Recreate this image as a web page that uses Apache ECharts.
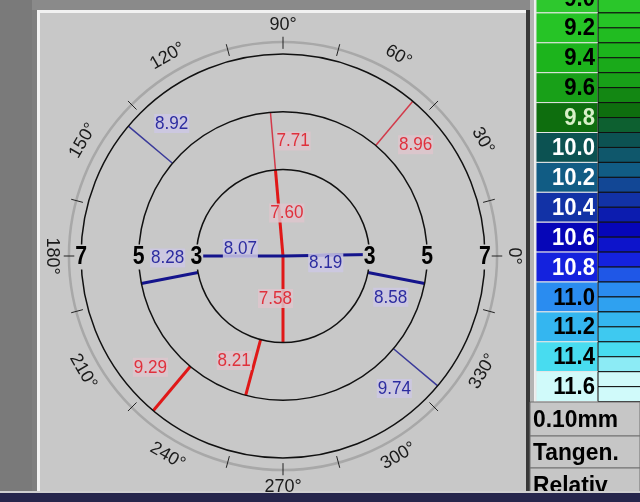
<!DOCTYPE html>
<html>
<head>
<meta charset="utf-8">
<script src="https://cdn.jsdelivr.net/npm/echarts@6/dist/echarts.min.js"></script>
<style>
html, body { margin: 0; padding: 0; background: #7f7f7f; }
#main { width: 640px; height: 502px; }
</style>
</head>
<body>
<div id="main"></div>
<script>
var ringRadii = [3, 5, 7];
var degreeLabels = [0, 30, 60, 90, 120, 150, 180, 210, 240, 270, 300, 330];
var degreeTicks = [0, 15, 45, 75, 90, 105, 135, 165, 180, 195, 225, 255, 270, 285, 315, 345];

// steep meridian (red): angle in degrees, zone from/to in mm, radius value
var steepAngles = [95, 270, 95, 255, 50, 230];
var steepFrom = [0, 0, 3, 3, 5, 5];
var steepTo = [3, 3, 5, 5, 7, 7];
var steepValues = [7.60, 7.58, 7.71, 8.21, 8.96, 9.29];

// flat meridian (blue)
var flatAngles = [180, 1, 191, 349, 140, 320];
var flatFrom = [0, 0, 3, 3, 5, 5];
var flatTo = [3, 3, 5, 5, 7, 7];
var flatValues = [8.07, 8.19, 8.28, 8.58, 8.92, 9.74];

// colour scale
var scaleValues = [9.0, 9.2, 9.4, 9.6, 9.8, 10.0, 10.2, 10.4, 10.6, 10.8, 11.0, 11.2, 11.4, 11.6];
var scaleNotes = ['0.10mm', 'Tangen.', 'Relativ'];

// styles
var steepWidths = [3, 3, 1.5, 3, 1.5, 3];
var flatWidths = [3, 3, 3, 3, 1.5, 1.5];
var scaleColors = ['#2ec82e', '#26c426', '#1cb41c', '#18a018', '#0e6e0e', '#0c5252', '#115c84', '#1232a6',
    '#0606b8', '#1422de', '#2a8cf0', '#34b6f0', '#48dcf0', '#d0fafa'];
var scaleTextColors = ['#000', '#000', '#000', '#000', '#d8f0c8', '#fff', '#fff', '#fff',
    '#fff', '#fff', '#000', '#000', '#000', '#000'];

var myChart = echarts.init(document.getElementById('main'));

var zip = function (angles, from, to, vals) {
    return vals.map(function (v, i) {
        return [(from[i] + to[i]) / 2, angles[i], from[i], to[i], v];
    });
};

var meridian = function (thick, thin, textColor, bg, widths) {
    return function (params, api) {
        var a = api.value(1), r0 = api.value(2), r1 = api.value(3), v = api.value(4);
        var p0 = api.coord([r0, a]);
        var p1 = api.coord([r1, a]);
        var pl = api.coord([(r0 + r1) / 2, (a + 350) % 360]);
        var w = widths[params.dataIndex];
        return {
            type: 'group',
            children: [{
                type: 'line',
                shape: { x1: p0[0], y1: p0[1], x2: p1[0], y2: p1[1] },
                style: { stroke: w > 2 ? thick : thin, lineWidth: w }
            }, {
                type: 'text',
                x: pl[0], y: pl[1], scaleX: 0.9, z2: 10,
                style: {
                    text: v.toFixed(2), fill: textColor,
                    font: '19px "Liberation Sans"',
                    align: 'center', verticalAlign: 'middle',
                    backgroundColor: bg, padding: [0, 1]
                }
            }]
        };
    };
};

// side panel + colour scale
var mix = function (c1, c2) {
    var a = echarts.color.parse(c1), b = echarts.color.parse(c2);
    return 'rgb(' + Math.round((a[0] + b[0]) / 2) + ',' + Math.round((a[1] + b[1]) / 2) + ',' + Math.round((a[2] + b[2]) / 2) + ')';
};
var graphics = [
    { type: 'rect', shape: { x: 0, y: 0, width: 640, height: 10 }, style: { fill: '#8a8a8a' } },
    { type: 'rect', shape: { x: 0, y: 0, width: 32, height: 502 }, style: { fill: '#7a7a7a' } },
    { type: 'rect', shape: { x: 37, y: 10, width: 490, height: 483 }, style: { fill: '#f2f2f2' } },
    { type: 'rect', shape: { x: 40, y: 13, width: 486, height: 478 }, style: { fill: '#c8c8c8' } },
    { type: 'rect', shape: { x: 526, y: 10, width: 4, height: 484 }, style: { fill: '#383838' } },
    { type: 'rect', shape: { x: 530, y: 0, width: 110, height: 502 }, style: { fill: '#b4b4b4' } },
    { type: 'rect', shape: { x: 534, y: 0, width: 2, height: 502 }, style: { fill: '#f0f0f0' } }
];
var rowH = 29.9, top0 = -17;
scaleValues.forEach(function (v, k) {
    var y = top0 + k * rowH;
    var next = scaleColors[Math.min(k + 1, scaleColors.length - 1)];
    graphics.push({ type: 'rect', shape: { x: 536, y: y, width: 62, height: rowH },
        style: { fill: scaleColors[k], stroke: '#e6e6e6', lineWidth: 1 } });
    graphics.push({ type: 'rect', shape: { x: 598, y: y, width: 44, height: rowH / 2 },
        style: { fill: scaleColors[k], stroke: '#101010', lineWidth: 1 } });
    graphics.push({ type: 'rect', shape: { x: 598, y: y + rowH / 2, width: 44, height: rowH / 2 },
        style: { fill: mix(scaleColors[k], next), stroke: '#101010', lineWidth: 1 } });
    graphics.push({ type: 'text', x: 595, y: y + rowH / 2 + 1, scaleX: 0.92,
        style: { text: v.toFixed(1), fill: scaleTextColors[k], font: 'bold 24px "Liberation Sans"',
            align: 'right', verticalAlign: 'middle' } });
});
var noteTops = [402, 436, 468], noteH = [34, 32, 34];
scaleNotes.forEach(function (t, k) {
    graphics.push({ type: 'rect', shape: { x: 530, y: noteTops[k], width: 110, height: noteH[k] },
        style: { fill: '#c6c6c6', stroke: '#707070', lineWidth: 1 } });
    graphics.push({ type: 'text', x: 533, y: noteTops[k] + noteH[k] / 2 + 1, scaleX: 0.95,
        style: { text: t, fill: '#000', font: 'bold 24px "Liberation Sans"', align: 'left', verticalAlign: 'middle' } });
});
graphics.push({ type: 'rect', shape: { x: 0, y: 491, width: 640, height: 2 }, style: { fill: '#d0d0d0' } });
graphics.push({ type: 'rect', shape: { x: 0, y: 493, width: 640, height: 9 }, style: { fill: '#26264c' } });

option = {
    backgroundColor: '#7f7f7f',
    animation: false,
    graphic: { elements: graphics },
    polar: { center: [283, 256], radius: 230.8 },
    angleAxis: { type: 'value', min: 0, max: 360, startAngle: 0, clockwise: false, show: false },
    radiusAxis: { type: 'value', min: 0, max: 8, show: false },
    series: [{
        // degree scale ring
        type: 'custom', coordinateSystem: 'polar', z: 2,
        data: [[7.42, 0]],
        renderItem: function (params, api) {
            var c = api.coord([0, 0]), p = api.coord([api.value(0), 0]);
            return { type: 'circle', shape: { cx: c[0], cy: c[1], r: p[0] - c[0] },
                style: { fill: null, stroke: '#a8a8a8', lineWidth: 2.5 } };
        }
    }, {
        type: 'custom', coordinateSystem: 'polar', z: 2,
        data: degreeTicks.map(function (a) { return [7.4, a]; }),
        renderItem: function (params, api) {
            var a = api.value(1);
            var p0 = api.coord([7.18, a]), p1 = api.coord([7.6, a]);
            return { type: 'line', shape: { x1: p0[0], y1: p0[1], x2: p1[0], y2: p1[1] },
                style: { stroke: '#222', lineWidth: 1 } };
        }
    }, {
        type: 'custom', coordinateSystem: 'polar', z: 2,
        data: degreeLabels.map(function (a) { return [8.0, a]; }),
        renderItem: function (params, api) {
            var a = api.value(1);
            var p = api.coord([8.0, a]);
            var rot = a < 180 ? a - 90 : a + 90;
            return { type: 'text', x: p[0], y: p[1], rotation: rot * Math.PI / 180,
                style: { text: a + '°', fill: '#1a1a1a', font: '18px "Liberation Sans"',
                    align: 'center', verticalAlign: 'middle' } };
        }
    }, {
        name: 'steep', type: 'custom', coordinateSystem: 'polar', z: 3,
        data: zip(steepAngles, steepFrom, steepTo, steepValues),
        renderItem: meridian('#e01818', '#d23a4a', '#e0303c', 'rgba(222,198,204,0.85)', steepWidths)
    }, {
        name: 'flat', type: 'custom', coordinateSystem: 'polar', z: 3,
        data: zip(flatAngles, flatFrom, flatTo, flatValues),
        renderItem: meridian('#14148c', '#3a3a9a', '#2c2ca0', 'rgba(204,200,228,0.85)', flatWidths)
    }, {
        // zone rings 3, 5, 7 mm
        type: 'custom', coordinateSystem: 'polar', z: 4,
        data: ringRadii.map(function (r) { return [r, 0]; }),
        renderItem: function (params, api) {
            var r = api.value(0);
            var c = api.coord([0, 0]), p = api.coord([r, 0]);
            var R = p[0] - c[0];
            var lbl = function (x) {
                return { type: 'text', x: x, y: c[1] + 1, scaleX: 0.85, z2: 10,
                    style: { text: String(r), fill: '#000', font: 'bold 25px "Liberation Sans"',
                        align: 'center', verticalAlign: 'middle', backgroundColor: '#c8c8c8', padding: [0, 1] } };
            };
            return { type: 'group', children: [
                { type: 'circle', shape: { cx: c[0], cy: c[1], r: R },
                    style: { fill: null, stroke: '#111', lineWidth: 1.5 } },
                lbl(c[0] - R), lbl(c[0] + R)
            ] };
        }
    }]
};

myChart.setOption(option);
</script>
</body>
</html>
